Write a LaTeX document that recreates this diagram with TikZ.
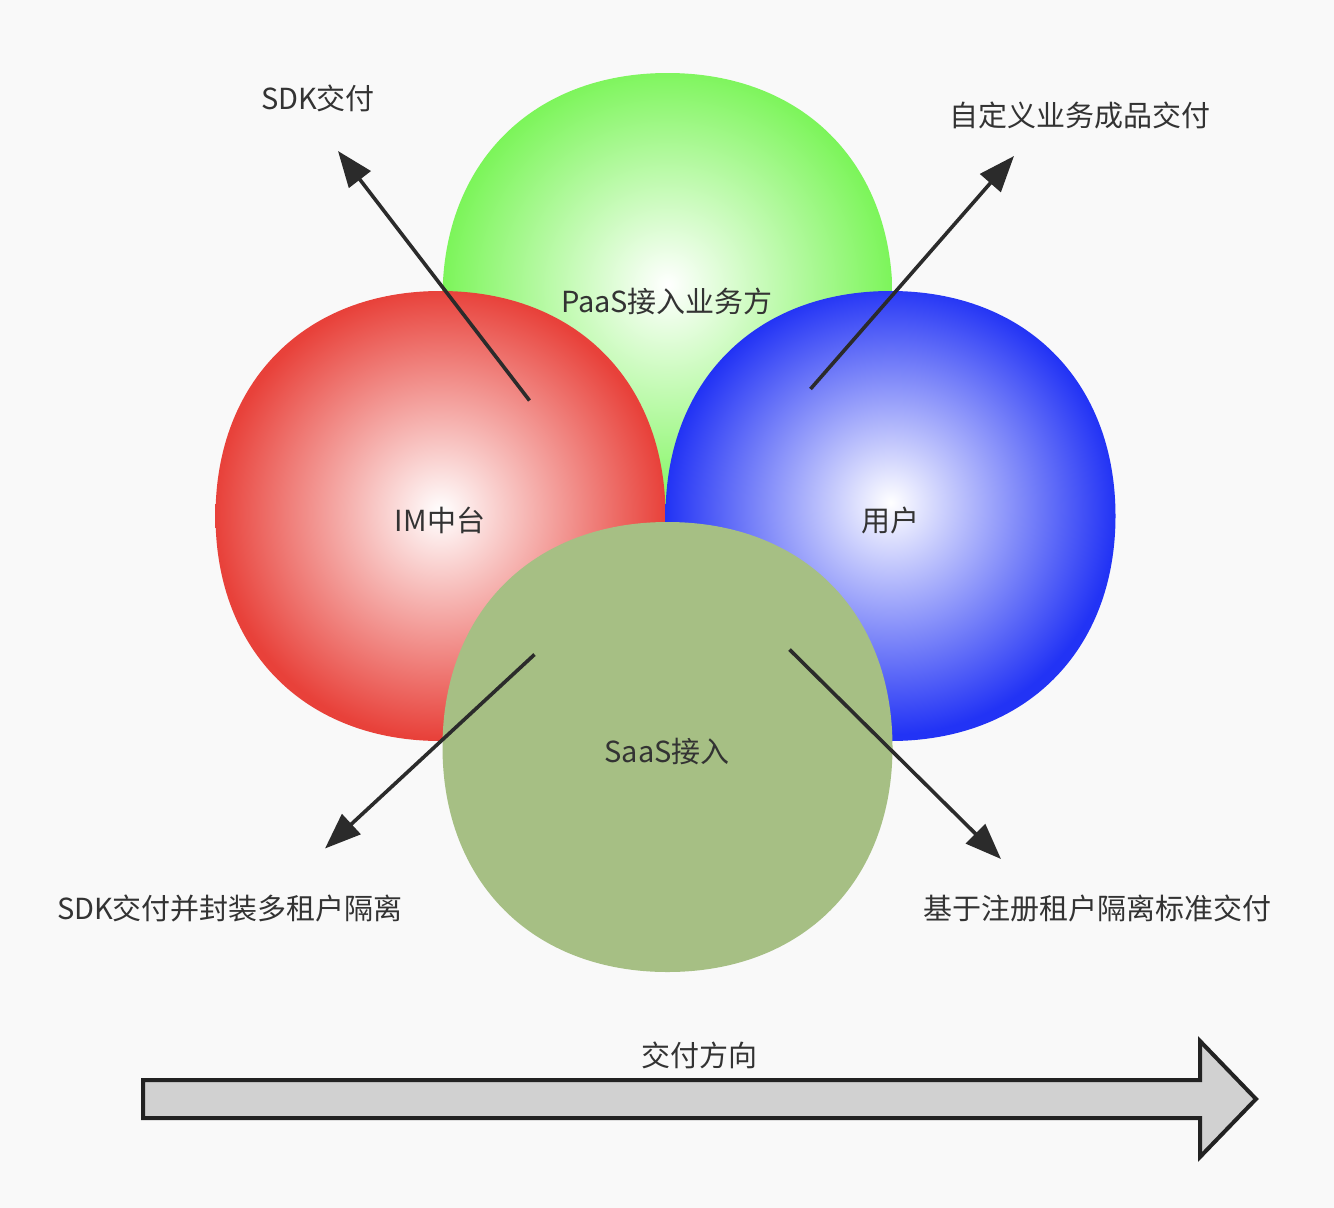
\documentclass[tikz,border=0pt]{standalone}
\usepackage{fontspec}
\setmainfont{Noto Sans CJK SC}
\usetikzlibrary{arrows.meta}
\definecolor{bg}{HTML}{F9F9F9}
\definecolor{redc}{HTML}{E8413A}
\definecolor{greenc}{HTML}{7CF55A}
\definecolor{bluec}{HTML}{2233F5}
\definecolor{olivec}{HTML}{A6BF84}
\definecolor{ink}{HTML}{333333}
\definecolor{linec}{HTML}{2B2B2B}
\definecolor{bigfill}{HTML}{D1D1D1}
\definecolor{bigline}{HTML}{222222}
\pgfdeclareradialshading{redball}{\pgfpoint{0bp}{0.5bp}}{color(0bp)=(white); color(25bp)=(redc); color(50bp)=(redc)}
\pgfdeclareradialshading{greenball}{\pgfpoint{0bp}{1.5bp}}{color(0bp)=(white); color(25bp)=(greenc); color(50bp)=(greenc)}
\pgfdeclareradialshading{blueball}{\pgfpoint{0bp}{1.5bp}}{color(0bp)=(white); color(25bp)=(bluec); color(50bp)=(bluec)}
\newcommand\blobat[3]{%
  \path[#1] ({#2+225},{#3}) .. controls ({#2+225},{#3+135}) and ({#2+135},{#3+225}) .. ({#2},{#3+225})
    .. controls ({#2-135},{#3+225}) and ({#2-225},{#3+135}) .. ({#2-225},{#3})
    .. controls ({#2-225},{#3-135}) and ({#2-135},{#3-225}) .. ({#2},{#3-225})
    .. controls ({#2+135},{#3-225}) and ({#2+225},{#3-135}) .. ({#2+225},{#3}) -- cycle;}
\tikzset{
  lbl/.style={text=ink, font=\fontsize{29}{34}\selectfont, inner sep=0pt},
  conn/.style={draw=linec, line width=3.6pt, -{Triangle[length=36pt,width=27pt]}},
  bigarrow/.style={fill=bigfill, draw=bigline, line width=4pt, line join=miter}
}
\begin{document}
\begin{tikzpicture}[x=1pt,y=-1pt]
\fill[bg] (0,0) rectangle (1334,1208);
\useasboundingbox (0,0) rectangle (1334,1208);
% blobs
\blobat{shading=greenball}{667.5}{298}
\blobat{shading=redball}{440.5}{516}
\blobat{shading=blueball}{890.5}{516}
\blobat{fill=olivec}{667.5}{747}
% blob labels
\node[lbl] (paas) at (667,301) {PaaS接入业务方};
\node[lbl] (im) at (440,520) {IM中台};
\node[lbl] (user) at (890,520) {用户};
\node[lbl] (saas) at (667,752) {SaaS接入};
% connectors
\coordinate (s1) at (529.5,400.5); \coordinate (t1) at (338,151);
\coordinate (s2) at (810.5,389);   \coordinate (t2) at (1014,156);
\coordinate (s3) at (534.5,654.5); \coordinate (t3) at (325,848.5);
\coordinate (s4) at (789.5,649.5); \coordinate (t4) at (1001,859);
\draw[conn] (s1) -- (t1);
\draw[conn] (s2) -- (t2);
\draw[conn] (s3) -- (t3);
\draw[conn] (s4) -- (t4);
% outer labels
\node[lbl] (l1) at (318,98) {SDK交付};
\node[lbl] (l2) at (1080,115) {自定义业务成品交付};
\node[lbl] (l3) at (230,908) {SDK交付并封装多租户隔离};
\node[lbl] (l4) at (1097,908) {基于注册租户隔离标准交付};
% direction arrow
\draw[bigarrow] (143,1080) -- (1200,1080) -- (1200,1041) -- (1256,1099) -- (1200,1157) -- (1200,1118) -- (143,1118) -- cycle;
\node[lbl] (dir) at (699,1055) {交付方向};
\end{tikzpicture}
\end{document}
